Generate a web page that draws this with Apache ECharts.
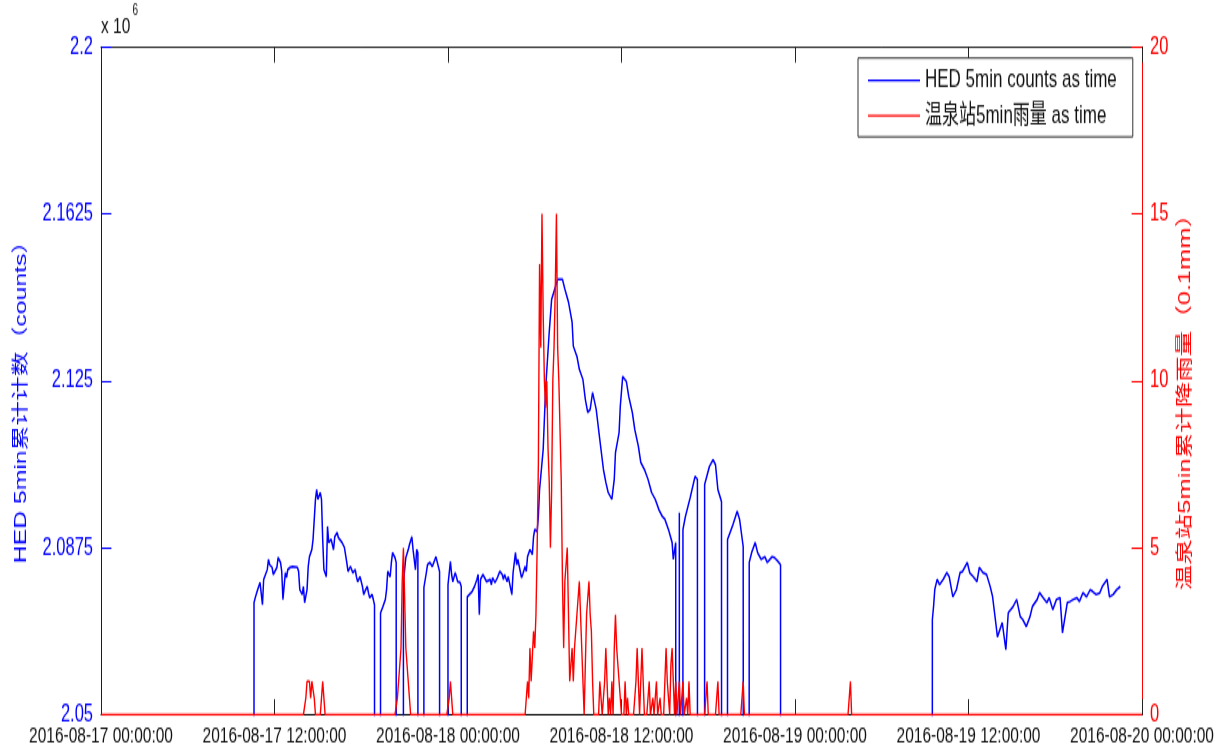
<!DOCTYPE html>
<html>
<head>
<meta charset="utf-8">
<title>HED 5min counts and rainfall</title>
<script src="https://cdn.jsdelivr.net/npm/echarts@6.0.0/dist/echarts.min.js"></script>
<style>
  html, body { margin: 0; padding: 0; background: #fff; overflow: hidden; }
  #wrap { width: 1225px; height: 747px; overflow: hidden; }
  /* the figure is laid out at 2/3 height and stretched vertically, giving tall, narrow lettering */
  #chart { width: 1225px; height: 498px; transform: scaleY(1.5); transform-origin: 0 0; }
</style>
</head>
<body>
<div id="wrap"><div id="chart"></div></div>
<script>
// ---- tick labels ----
const xTickLabels = [
  '2016-08-17 00:00:00', '2016-08-17 12:00:00', '2016-08-18 00:00:00',
  '2016-08-18 12:00:00', '2016-08-19 00:00:00', '2016-08-19 12:00:00',
  '2016-08-20 00:00:00'
];
const leftTickLabels = ['2.05', '2.0875', '2.125', '2.1625', '2.2'];   // x 10^6 counts
const rightTickLabels = ['0', '5', '10', '15', '20'];                   // 0.1 mm

// ---- HED 5-min counts (x 10^6); 0 = no record ----
const hedDay17 = [
  ['2016-08-17 10:30', 0], ['2016-08-17 10:35', 2.0752], ['2016-08-17 10:40', 2.0763], ['2016-08-17 10:45', 2.0768],
  ['2016-08-17 10:50', 2.0781], ['2016-08-17 11:00', 2.0797], ['2016-08-17 11:10', 2.0747], ['2016-08-17 11:15', 2.0804],
  ['2016-08-17 11:20', 2.0810], ['2016-08-17 11:30', 2.0826], ['2016-08-17 11:35', 2.0849], ['2016-08-17 11:40', 2.0837],
  ['2016-08-17 11:50', 2.0831], ['2016-08-17 11:55', 2.0815], ['2016-08-17 12:00', 2.0819], ['2016-08-17 12:10', 2.0831],
  ['2016-08-17 12:15', 2.0853], ['2016-08-17 12:25', 2.0842], ['2016-08-17 12:30', 2.0822], ['2016-08-17 12:35', 2.0759],
  ['2016-08-17 12:45', 2.0819], ['2016-08-17 12:50', 2.0808], ['2016-08-17 12:55', 2.0826], ['2016-08-17 13:05', 2.0831],
  ['2016-08-17 13:10', 2.0826], ['2016-08-17 13:15', 2.0833], ['2016-08-17 13:35', 2.0831], ['2016-08-17 13:40', 2.0822],
  ['2016-08-17 13:45', 2.0781], ['2016-08-17 13:55', 2.0770], ['2016-08-17 14:00', 2.0788], ['2016-08-17 14:05', 2.0752],
  ['2016-08-17 14:15', 2.0781], ['2016-08-17 14:20', 2.0833], ['2016-08-17 14:25', 2.0855], ['2016-08-17 14:35', 2.0871],
  ['2016-08-17 14:40', 2.0894], ['2016-08-17 14:50', 2.0984], ['2016-08-17 14:55', 2.1006], ['2016-08-17 15:00', 2.0984],
  ['2016-08-17 15:10', 2.0999], ['2016-08-17 15:15', 2.0984], ['2016-08-17 15:20', 2.0894], ['2016-08-17 15:25', 2.0826],
  ['2016-08-17 15:35', 2.0810], ['2016-08-17 15:40', 2.0923], ['2016-08-17 15:45', 2.0887], ['2016-08-17 15:55', 2.0894],
  ['2016-08-17 16:05', 2.0871], ['2016-08-17 16:10', 2.0900], ['2016-08-17 16:20', 2.0909], ['2016-08-17 16:25', 2.0898],
  ['2016-08-17 16:40', 2.0887], ['2016-08-17 16:50', 2.0876], ['2016-08-17 17:00', 2.0842], ['2016-08-17 17:05', 2.0822],
  ['2016-08-17 17:15', 2.0833], ['2016-08-17 17:20', 2.0826], ['2016-08-17 17:25', 2.0819], ['2016-08-17 17:35', 2.0826],
  ['2016-08-17 17:40', 2.0810], ['2016-08-17 17:45', 2.0799], ['2016-08-17 17:55', 2.0810], ['2016-08-17 18:05', 2.0788],
  ['2016-08-17 18:10', 2.0770], ['2016-08-17 18:15', 2.0777], ['2016-08-17 18:25', 2.0788], ['2016-08-17 18:30', 2.0774],
  ['2016-08-17 18:35', 2.0763], ['2016-08-17 18:45', 2.0770], ['2016-08-17 18:50', 2.0759], ['2016-08-17 18:55', 2.0747],
  ['2016-08-17 19:00', 0], ['2016-08-17 19:15', 0],
  ['2016-08-17 19:20', 2.0729], ['2016-08-17 19:25', 2.0729], ['2016-08-17 19:30', 2.0743], ['2016-08-17 19:40', 2.0759],
  ['2016-08-17 19:45', 2.0781], ['2016-08-17 19:50', 2.0822], ['2016-08-17 20:00', 2.0810], ['2016-08-17 20:05', 2.0842],
  ['2016-08-17 20:10', 2.0864], ['2016-08-17 20:20', 2.0853], ['2016-08-17 20:25', 2.0842],
  ['2016-08-17 20:30', 0], ['2016-08-17 20:50', 0],
  ['2016-08-17 20:55', 2.0797], ['2016-08-17 21:05', 2.0853], ['2016-08-17 21:15', 2.0871], ['2016-08-17 21:20', 2.0882],
  ['2016-08-17 21:30', 2.0900], ['2016-08-17 21:35', 2.0871], ['2016-08-17 21:45', 2.0826], ['2016-08-17 21:50', 2.0871],
  ['2016-08-17 21:55', 2.0864], ['2016-08-17 22:00', 2.0860],
  ['2016-08-17 22:05', 0], ['2016-08-17 22:15', 0],
  ['2016-08-17 22:20', 2.0786], ['2016-08-17 22:30', 2.0819], ['2016-08-17 22:35', 2.0837], ['2016-08-17 22:45', 2.0842],
  ['2016-08-17 22:55', 2.0833], ['2016-08-17 23:00', 2.0837], ['2016-08-17 23:10', 2.0855], ['2016-08-17 23:20', 2.0833],
  ['2016-08-17 23:25', 2.0822],
  ['2016-08-17 23:30', 0], ['2016-08-17 23:55', 0]
];

const hedDay18 = [
  ['2016-08-18 00:00', 2.0792], ['2016-08-18 00:10', 2.0844], ['2016-08-18 00:15', 2.0815], ['2016-08-18 00:20', 2.0799],
  ['2016-08-18 00:30', 2.0819], ['2016-08-18 00:35', 2.0810], ['2016-08-18 00:40', 2.0799], ['2016-08-18 00:50', 2.0797],
  ['2016-08-18 00:55', 2.0788],
  ['2016-08-18 01:00', 0], ['2016-08-18 01:15', 0],
  ['2016-08-18 01:20', 2.0765], ['2016-08-18 01:25', 2.0770], ['2016-08-18 01:40', 2.0777], ['2016-08-18 01:50', 2.0788],
  ['2016-08-18 02:00', 2.0804], ['2016-08-18 02:05', 2.0815], ['2016-08-18 02:10', 2.0725], ['2016-08-18 02:15', 2.0804],
  ['2016-08-18 02:25', 2.0815], ['2016-08-18 02:30', 2.0810], ['2016-08-18 02:40', 2.0799], ['2016-08-18 02:45', 2.0797],
  ['2016-08-18 02:55', 2.0804], ['2016-08-18 03:00', 2.0792], ['2016-08-18 03:05', 2.0808], ['2016-08-18 03:15', 2.0797],
  ['2016-08-18 03:25', 2.0808], ['2016-08-18 03:30', 2.0804], ['2016-08-18 03:35', 2.0822], ['2016-08-18 03:45', 2.0815],
  ['2016-08-18 03:50', 2.0804], ['2016-08-18 03:55', 2.0815], ['2016-08-18 04:05', 2.0799], ['2016-08-18 04:10', 2.0810],
  ['2016-08-18 04:15', 2.0797], ['2016-08-18 04:25', 2.0770], ['2016-08-18 04:30', 2.0819], ['2016-08-18 04:40', 2.0864],
  ['2016-08-18 04:45', 2.0837], ['2016-08-18 04:50', 2.0849], ['2016-08-18 05:00', 2.0822], ['2016-08-18 05:05', 2.0808],
  ['2016-08-18 05:10', 2.0815], ['2016-08-18 05:20', 2.0833], ['2016-08-18 05:25', 2.0822], ['2016-08-18 05:30', 2.0855],
  ['2016-08-18 05:40', 2.0871], ['2016-08-18 05:50', 2.0860], ['2016-08-18 05:55', 2.0900], ['2016-08-18 06:00', 2.0916],
  ['2016-08-18 06:10', 2.0912], ['2016-08-18 06:15', 2.0945], ['2016-08-18 06:20', 2.1006], ['2016-08-18 06:35', 2.1096],
  ['2016-08-18 06:45', 2.1231], ['2016-08-18 07:00', 2.1359], ['2016-08-18 07:10', 2.1433], ['2016-08-18 07:25', 2.1460],
  ['2016-08-18 07:35', 2.1478], ['2016-08-18 07:55', 2.1478], ['2016-08-18 08:05', 2.1456], ['2016-08-18 08:20', 2.1427],
  ['2016-08-18 08:35', 2.1382], ['2016-08-18 08:40', 2.1328], ['2016-08-18 08:55', 2.1305], ['2016-08-18 09:05', 2.1276],
  ['2016-08-18 09:20', 2.1253], ['2016-08-18 09:30', 2.1208], ['2016-08-18 09:40', 2.1179], ['2016-08-18 09:50', 2.1186],
  ['2016-08-18 10:00', 2.1224], ['2016-08-18 10:15', 2.1186], ['2016-08-18 10:30', 2.1118], ['2016-08-18 10:45', 2.1051],
  ['2016-08-18 10:55', 2.1022], ['2016-08-18 11:05', 2.0999], ['2016-08-18 11:20', 2.0984], ['2016-08-18 11:30', 2.1029],
  ['2016-08-18 11:35', 2.1089], ['2016-08-18 11:50', 2.1134], ['2016-08-18 11:55', 2.1193], ['2016-08-18 12:05', 2.1260],
  ['2016-08-18 12:20', 2.1249], ['2016-08-18 12:30', 2.1215], ['2016-08-18 12:45', 2.1179], ['2016-08-18 12:55', 2.1141],
  ['2016-08-18 13:10', 2.1103], ['2016-08-18 13:20', 2.1067], ['2016-08-18 13:35', 2.1051], ['2016-08-18 13:50', 2.1029],
  ['2016-08-18 14:05', 2.0999], ['2016-08-18 14:20', 2.0984], ['2016-08-18 14:35', 2.0961], ['2016-08-18 14:50', 2.0945],
  ['2016-08-18 15:00', 2.0939], ['2016-08-18 15:15', 2.0916], ['2016-08-18 15:30', 2.0887], ['2016-08-18 15:35', 2.0849],
  ['2016-08-18 15:45', 2.0887],
  ['2016-08-18 15:55', 0], ['2016-08-18 16:00', 2.0954], ['2016-08-18 16:05', 0], ['2016-08-18 16:10', 0],
  ['2016-08-18 16:15', 2.0916], ['2016-08-18 16:25', 2.0945], ['2016-08-18 16:45', 2.0988], ['2016-08-18 17:05', 2.1035],
  ['2016-08-18 17:15', 2.1029],
  ['2016-08-18 17:25', 0], ['2016-08-18 17:40', 0],
  ['2016-08-18 17:45', 2.1017], ['2016-08-18 18:05', 2.1058], ['2016-08-18 18:20', 2.1073], ['2016-08-18 18:30', 2.1062],
  ['2016-08-18 18:40', 2.1006], ['2016-08-18 18:55', 2.0979],
  ['2016-08-18 19:00', 0], ['2016-08-18 19:15', 0],
  ['2016-08-18 19:20', 2.0894], ['2016-08-18 19:40', 2.0923], ['2016-08-18 20:00', 2.0957], ['2016-08-18 20:10', 2.0939],
  ['2016-08-18 20:25', 2.0878], ['2016-08-18 20:30', 2.0876],
  ['2016-08-18 20:40', 0], ['2016-08-18 20:45', 0],
  ['2016-08-18 20:50', 2.0842], ['2016-08-18 21:00', 2.0864], ['2016-08-18 21:15', 2.0887], ['2016-08-18 21:25', 2.0864],
  ['2016-08-18 21:40', 2.0849], ['2016-08-18 21:55', 2.0855], ['2016-08-18 22:05', 2.0842], ['2016-08-18 22:25', 2.0855],
  ['2016-08-18 22:35', 2.0853], ['2016-08-18 22:50', 2.0844], ['2016-08-18 23:00', 2.0837],
  ['2016-08-18 23:05', 0]
];

const hedDay19 = [
  ['2016-08-19 09:25', 0],
  ['2016-08-19 09:30', 2.0714], ['2016-08-19 09:35', 2.0743], ['2016-08-19 09:40', 2.0781], ['2016-08-19 09:50', 2.0804],
  ['2016-08-19 10:00', 2.0792], ['2016-08-19 10:15', 2.0804], ['2016-08-19 10:30', 2.0819], ['2016-08-19 10:40', 2.0810],
  ['2016-08-19 10:55', 2.0765], ['2016-08-19 11:10', 2.0781], ['2016-08-19 11:25', 2.0819], ['2016-08-19 11:35', 2.0822],
  ['2016-08-19 11:55', 2.0842], ['2016-08-19 12:05', 2.0819], ['2016-08-19 12:20', 2.0810], ['2016-08-19 12:35', 2.0799],
  ['2016-08-19 12:45', 2.0831], ['2016-08-19 13:00', 2.0819], ['2016-08-19 13:15', 2.0815], ['2016-08-19 13:30', 2.0788],
  ['2016-08-19 13:40', 2.0765], ['2016-08-19 13:55', 2.0698], ['2016-08-19 14:00', 2.0675], ['2016-08-19 14:10', 2.0691],
  ['2016-08-19 14:20', 2.0707], ['2016-08-19 14:35', 2.0646], ['2016-08-19 14:45', 2.0729], ['2016-08-19 15:05', 2.0743],
  ['2016-08-19 15:20', 2.0759], ['2016-08-19 15:35', 2.0720], ['2016-08-19 15:45', 2.0714], ['2016-08-19 16:00', 2.0698],
  ['2016-08-19 16:15', 2.0720], ['2016-08-19 16:25', 2.0743], ['2016-08-19 16:45', 2.0759], ['2016-08-19 16:55', 2.0774],
  ['2016-08-19 17:10', 2.0763], ['2016-08-19 17:25', 2.0752], ['2016-08-19 17:35', 2.0763], ['2016-08-19 17:50', 2.0736],
  ['2016-08-19 18:05', 2.0759], ['2016-08-19 18:20', 2.0763], ['2016-08-19 18:30', 2.0684], ['2016-08-19 18:50', 2.0752],
  ['2016-08-19 19:00', 2.0754], ['2016-08-19 19:15', 2.0759], ['2016-08-19 19:30', 2.0763], ['2016-08-19 19:40', 2.0754],
  ['2016-08-19 19:55', 2.0774], ['2016-08-19 20:10', 2.0765], ['2016-08-19 20:25', 2.0781], ['2016-08-19 20:35', 2.0777],
  ['2016-08-19 20:50', 2.0770], ['2016-08-19 21:05', 2.0774], ['2016-08-19 21:15', 2.0788], ['2016-08-19 21:35', 2.0804],
  ['2016-08-19 21:45', 2.0765], ['2016-08-19 22:00', 2.0770], ['2016-08-19 22:15', 2.0781], ['2016-08-19 22:30', 2.0788]
];

// ---- 温泉站 5-min rainfall (0.1 mm); every 5-min slot not listed had no rain ----
const rainEvents = [
  ['2016-08-17 14:10', 0.5], ['2016-08-17 14:15', 1], ['2016-08-17 14:20', 1], ['2016-08-17 14:25', 1],
  ['2016-08-17 14:30', 0.5], ['2016-08-17 14:35', 1], ['2016-08-17 14:40', 1], ['2016-08-17 14:45', 0.5],
  ['2016-08-17 15:15', 0.5], ['2016-08-17 15:20', 1], ['2016-08-17 15:25', 0.5],
  ['2016-08-17 20:30', 0.5], ['2016-08-17 20:35', 1], ['2016-08-17 20:40', 1], ['2016-08-17 20:45', 2],
  ['2016-08-17 20:50', 4], ['2016-08-17 20:55', 5], ['2016-08-17 21:00', 3.5], ['2016-08-17 21:05', 2],
  ['2016-08-17 21:10', 2], ['2016-08-17 21:15', 1], ['2016-08-17 21:20', 0.5],
  ['2016-08-18 00:05', 0.5], ['2016-08-18 00:10', 1], ['2016-08-18 00:15', 0.5],
  ['2016-08-18 05:30', 1], ['2016-08-18 05:35', 0.5], ['2016-08-18 05:40', 2], ['2016-08-18 05:45', 1],
  ['2016-08-18 05:50', 1], ['2016-08-18 05:55', 2.5], ['2016-08-18 06:00', 2], ['2016-08-18 06:05', 3],
  ['2016-08-18 06:10', 5], ['2016-08-18 06:15', 7.5], ['2016-08-18 06:20', 13.5], ['2016-08-18 06:25', 11],
  ['2016-08-18 06:30', 15], ['2016-08-18 06:35', 12], ['2016-08-18 06:40', 10], ['2016-08-18 06:45', 9.2],
  ['2016-08-18 06:50', 10], ['2016-08-18 06:55', 8], ['2016-08-18 07:00', 7], ['2016-08-18 07:05', 5],
  ['2016-08-18 07:10', 6.7], ['2016-08-18 07:15', 10], ['2016-08-18 07:20', 11], ['2016-08-18 07:25', 12.7],
  ['2016-08-18 07:30', 15], ['2016-08-18 07:35', 11], ['2016-08-18 07:40', 10], ['2016-08-18 07:45', 10],
  ['2016-08-18 07:50', 7], ['2016-08-18 07:55', 4], ['2016-08-18 08:00', 2], ['2016-08-18 08:05', 4],
  ['2016-08-18 08:10', 4], ['2016-08-18 08:15', 5], ['2016-08-18 08:20', 3], ['2016-08-18 08:25', 1],
  ['2016-08-18 08:30', 1], ['2016-08-18 08:35', 2], ['2016-08-18 08:40', 1], ['2016-08-18 08:45', 2],
  ['2016-08-18 08:50', 2], ['2016-08-18 08:55', 3], ['2016-08-18 09:00', 3], ['2016-08-18 09:05', 4],
  ['2016-08-18 09:10', 3], ['2016-08-18 09:15', 2], ['2016-08-18 09:20', 1],
  ['2016-08-18 09:35', 3], ['2016-08-18 09:40', 3], ['2016-08-18 09:45', 4], ['2016-08-18 09:50', 3],
  ['2016-08-18 09:55', 2.5], ['2016-08-18 10:00', 1],
  ['2016-08-18 10:30', 1], ['2016-08-18 10:35', 0.5], ['2016-08-18 10:50', 1], ['2016-08-18 10:55', 2],
  ['2016-08-18 11:00', 1], ['2016-08-18 11:10', 0.5], ['2016-08-18 11:20', 1], ['2016-08-18 11:30', 2],
  ['2016-08-18 11:35', 3], ['2016-08-18 11:40', 2], ['2016-08-18 11:45', 2], ['2016-08-18 11:50', 1],
  ['2016-08-18 11:55', 1], ['2016-08-18 12:15', 1], ['2016-08-18 12:25', 0.5],
  ['2016-08-18 13:00', 1], ['2016-08-18 13:05', 2], ['2016-08-18 13:10', 1], ['2016-08-18 13:20', 1],
  ['2016-08-18 13:25', 2], ['2016-08-18 13:30', 1], ['2016-08-18 13:55', 1], ['2016-08-18 14:10', 0.5],
  ['2016-08-18 14:25', 1], ['2016-08-18 14:40', 0.5], ['2016-08-18 15:05', 2], ['2016-08-18 15:10', 1],
  ['2016-08-18 15:15', 1], ['2016-08-18 15:25', 1.5], ['2016-08-18 15:30', 2], ['2016-08-18 15:35', 1],
  ['2016-08-18 15:45', 1], ['2016-08-18 16:00', 1], ['2016-08-18 16:15', 1], ['2016-08-18 16:30', 0.5],
  ['2016-08-18 16:40', 1], ['2016-08-18 17:55', 1], ['2016-08-18 18:40', 1], ['2016-08-18 20:25', 1],
  ['2016-08-19 03:50', 1]
];

const seriesNames = ['HED 5min counts as time', '温泉站5min雨量 as time'];
const leftTitle = 'HED 5min累计计数（counts）';
const rightTitle = '温泉站5min累计降雨量（0.1mm）';

// ---- helpers: time stamp -> hours since 2016-08-17 00:00 ----
function toHours(stamp) {
  const m = stamp.match(/(\d{2}) (\d{2}):(\d{2})$/);
  return (Number(m[1]) - 17) * 24 + Number(m[2]) + Number(m[3]) / 60;
}

const hedData = hedDay17.concat(hedDay18, hedDay19).map(([t, v]) => [toHours(t), v]);

// rainfall on the full 5-minute grid of the three days
const rainBySlot = new Map(rainEvents.map(([t, v]) => [Math.round(toHours(t) * 12), v]));
const rainData = [];
for (let k = 0; k <= 72 * 12; k++) {
  rainData.push([k / 12, rainBySlot.has(k) ? rainBySlot.get(k) : 0]);
}

const leftTicks = leftTickLabels.map(Number);
const FONT = "'Liberation Sans', Arial, 'Noto Sans CJK SC', sans-serif";
const BLUE = '#0000ff';
const RED = '#ff0000';
const TICK_LEN = 10.4;

const chart = echarts.init(document.getElementById('chart'), null, { renderer: 'canvas' });

chart.setOption({
  animation: false,
  backgroundColor: '#ffffff',
  grid: { left: 101, right: 83, top: 31.3, bottom: 21.3 },
  legend: {
    orient: 'vertical',
    left: 858,
    top: 38.7,
    padding: [6.5, 16, 5.5, 10],
    itemWidth: 52,
    itemHeight: 1.3,
    itemGap: 6.5,
    icon: 'rect',
    backgroundColor: '#ffffff',
    borderColor: '#333333',
    borderWidth: 1,
    borderRadius: 0,
    data: seriesNames,
    textStyle: { fontFamily: FONT, fontSize: 17, color: '#111111', lineHeight: 17 }
  },
  xAxis: [
    {
      type: 'value', min: 0, max: 72, interval: 12, position: 'bottom',
      axisLine: { show: true, onZero: false, lineStyle: { color: '#000000', width: 1 } },
      axisTick: { show: true, inside: true, length: TICK_LEN, lineStyle: { color: '#222222' } },
      axisLabel: {
        margin: 6, fontFamily: FONT, fontSize: 15.5, color: '#111111',
        formatter: v => xTickLabels[Math.round(v / 12)]
      },
      splitLine: { show: false }
    },
    {
      type: 'value', min: 0, max: 72, interval: 12, position: 'top',
      axisLine: { show: true, onZero: false, lineStyle: { color: '#333333', width: 1 } },
      axisTick: { show: true, inside: true, length: TICK_LEN, lineStyle: { color: '#222222' } },
      axisLabel: { show: false },
      splitLine: { show: false }
    }
  ],
  yAxis: [
    {
      type: 'value', min: leftTicks[0], max: leftTicks[leftTicks.length - 1], position: 'left',
      axisLine: { show: true, onZero: false, lineStyle: { color: BLUE, width: 1 } },
      axisTick: { show: true, inside: true, length: TICK_LEN, customValues: leftTicks, lineStyle: { color: BLUE } },
      axisLabel: {
        customValues: leftTicks, margin: 8, fontFamily: FONT, fontSize: 16.5, color: BLUE,
        formatter: v => {
          const i = leftTicks.findIndex(t => Math.abs(t - v) < 1e-9);
          return i >= 0 ? leftTickLabels[i] : '';
        }
      },
      splitLine: { show: false }
    },
    {
      type: 'value', min: 0, max: 20, interval: 5, position: 'right',
      axisLine: { show: true, onZero: false, lineStyle: { color: RED, width: 1 } },
      axisTick: { show: true, inside: true, length: TICK_LEN, lineStyle: { color: RED } },
      axisLabel: {
        margin: 8, fontFamily: FONT, fontSize: 16.5, color: RED,
        formatter: v => rightTickLabels[Math.round(v / 5)]
      },
      splitLine: { show: false }
    }
  ],
  series: [
    {
      name: seriesNames[0], type: 'line', xAxisIndex: 0, yAxisIndex: 0,
      data: hedData, symbol: 'none', showSymbol: false, clip: true, z: 2,
      color: BLUE, lineStyle: { color: BLUE, width: 1.5 }
    },
    {
      name: seriesNames[1], type: 'line', xAxisIndex: 0, yAxisIndex: 1,
      data: rainData, symbol: 'none', showSymbol: false, clip: true, z: 3,
      color: RED, lineStyle: { color: RED, width: 1.4 }
    }
  ],
  graphic: [
    {
      type: 'text', x: 101, y: 17.3, silent: true,
      style: { text: 'x 10', fill: '#111111', font: '15.5px ' + FONT,
               align: 'left', verticalAlign: 'middle', textAlign: 'left', textVerticalAlign: 'middle' }
    },
    {
      type: 'text', x: 132.5, y: 7.5, silent: true,
      style: { text: '6', fill: '#111111', font: '10px ' + FONT,
               align: 'left', verticalAlign: 'middle', textAlign: 'left', textVerticalAlign: 'middle' }
    },
    {
      type: 'text', x: 21, y: 264, rotation: Math.PI / 2, silent: true,
      style: { text: leftTitle, fill: BLUE, font: '16.5px ' + FONT,
               align: 'center', verticalAlign: 'middle', textAlign: 'center', textVerticalAlign: 'middle' }
    },
    {
      type: 'text', x: 1185, y: 264, rotation: Math.PI / 2, silent: true,
      style: { text: rightTitle, fill: RED, font: '17px ' + FONT,
               align: 'center', verticalAlign: 'middle', textAlign: 'center', textVerticalAlign: 'middle' }
    }
  ]
});
</script>
</body>
</html>
